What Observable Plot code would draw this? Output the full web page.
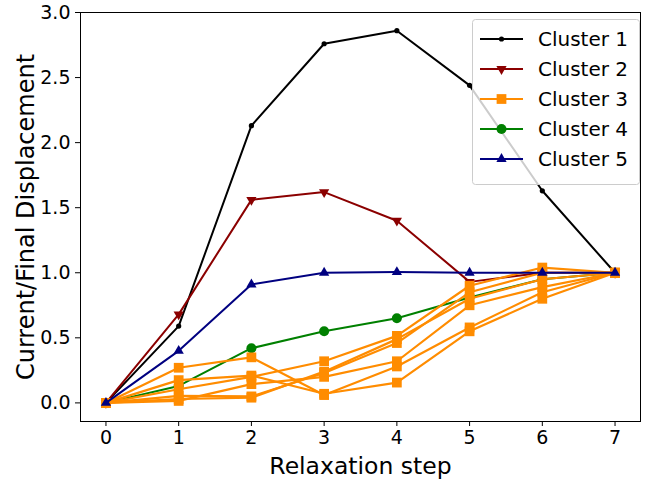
<!DOCTYPE html>
<html>
<head>
<meta charset="utf-8">
<script src="https://cdn.jsdelivr.net/npm/d3@7"></script>
<script src="https://cdn.jsdelivr.net/npm/@observablehq/plot@0.6"></script>
<style>
  html, body { margin: 0; padding: 0; background: #fff; }
  #wrap { position: relative; width: 645px; height: 485px; font-family: "DejaVu Sans", sans-serif; }
  #legend { position: absolute; left: 0; top: 0; }
</style>
</head>
<body>
<div id="wrap"></div>
<script>
const steps = [0, 1, 2, 3, 4, 5, 6, 7];
const cluster1 = [0, 0.59, 2.13, 2.76, 2.86, 2.44, 1.63, 1.0];
const cluster2 = [0, 0.68, 1.56, 1.62, 1.40, 0.93, 1.0, 1.0];
const cluster3a = [0, 0.27, 0.35, 0.06, 0.28, 0.58, 0.85, 1.0];
const cluster3b = [0, 0.175, 0.21, 0.07, 0.156, 0.55, 0.80, 1.0];
const cluster3c = [0, 0.105, 0.20, 0.32, 0.515, 0.90, 1.04, 1.0];
const cluster3d = [0, 0.054, 0.05, 0.23, 0.46, 0.85, 1.0, 1.0];
const cluster3e = [0, 0.015, 0.144, 0.20, 0.32, 0.75, 0.89, 1.0];
const cluster3f = [0, 0.03, 0.04, 0.24, 0.49, 0.80, 0.95, 1.0];
const cluster4 = [0, 0.13, 0.42, 0.55, 0.65, 0.81, 0.95, 1.0];
const cluster5 = [0, 0.40, 0.91, 1.0, 1.005, 1.0, 1.0, 1.0];
const legendLabels = ["Cluster 1", "Cluster 2", "Cluster 3", "Cluster 4", "Cluster 5"];
const colors = ["#000000", "#8b0000", "#ff8c00", "#008000", "#000080"];
const xTicks = [0, 1, 2, 3, 4, 5, 6, 7];
const yTicks = [0, 0.5, 1.0, 1.5, 2.0, 2.5, 3.0];

const rows = (arr) => steps.map((s, i) => ({x: s, y: arr[i]}));
const c3 = [cluster3a, cluster3b, cluster3c, cluster3d, cluster3e, cluster3f];

const marks = [];
// Cluster 1
marks.push(Plot.line(rows(cluster1), {x: "x", y: "y", stroke: colors[0], strokeWidth: 2}));
marks.push(Plot.dot(rows(cluster1), {x: "x", y: "y", fill: colors[0], r: 2.6, symbol: "circle"}));
// Cluster 2
marks.push(Plot.line(rows(cluster2), {x: "x", y: "y", stroke: colors[1], strokeWidth: 2}));
marks.push(Plot.dot(rows(cluster2), {x: "x", y: "y", fill: colors[1], r: 3.8, symbol: "triangle", rotate: 180}));
// Cluster 4
marks.push(Plot.line(rows(cluster4), {x: "x", y: "y", stroke: colors[3], strokeWidth: 2}));
marks.push(Plot.dot(rows(cluster4), {x: "x", y: "y", fill: colors[3], r: 5, symbol: "circle"}));
// Cluster 3
for (const a of c3) {
  marks.push(Plot.line(rows(a), {x: "x", y: "y", stroke: colors[2], strokeWidth: 2.2}));
  marks.push(Plot.dot(rows(a), {x: "x", y: "y", fill: colors[2], r: 5.5, symbol: "square"}));
}
// Cluster 5
marks.push(Plot.line(rows(cluster5), {x: "x", y: "y", stroke: colors[4], strokeWidth: 2}));
marks.push(Plot.dot(rows(cluster5), {x: "x", y: "y", fill: colors[4], r: 3.8, symbol: "triangle"}));

const chart = Plot.plot({
  width: 645,
  height: 485,
  marginLeft: 80,
  marginRight: 5,
  marginTop: 12,
  marginBottom: 64,
  style: {fontFamily: "DejaVu Sans, sans-serif", color: "#000", background: "#fff", overflow: "visible"},
  x: {domain: [-0.35, 7.35]},
  y: {domain: [-0.143, 3.0]},
  marks: [
    ...marks,
    Plot.frame({stroke: "#000", strokeWidth: 1}),
    Plot.axisX({ticks: xTicks, tickSize: 5, tickPadding: 4, fontSize: 19, tickFormat: d => String(d), label: null}),
    Plot.axisY({ticks: yTicks, tickSize: 5, tickPadding: 5, fontSize: 19, tickFormat: d => d.toFixed(1), label: null}),
    Plot.text(["Relaxation step"], {frameAnchor: "bottom", dy: 52, fontSize: 23.5, fill: "#000", textAnchor: "middle"}),
    Plot.text(["Current/Final Displacement"], {frameAnchor: "left", dx: -54, rotate: -90, fontSize: 24, fill: "#000", textAnchor: "middle"})
  ]
});
const wrap = document.getElementById("wrap");
wrap.appendChild(chart);

// Legend overlay
const lg = d3.select(wrap).append("svg").attr("id", "legend").attr("width", 645).attr("height", 485);
lg.append("rect").attr("x", 472.5).attr("y", 19.5).attr("width", 167).attr("height", 165).attr("rx", 3)
  .attr("fill", "rgba(255,255,255,0.8)").attr("stroke", "#cccccc").attr("stroke-width", 1);
const rowY = [39, 69, 99, 129, 159];
const sym = [d3.symbolCircle, d3.symbolTriangle, d3.symbolSquare, d3.symbolCircle, d3.symbolTriangle];
const rad = [2.6, 3.8, 5.5, 5, 3.8];
legendLabels.forEach((lab, i) => {
  const g = lg.append("g");
  g.append("line").attr("x1", 480).attr("x2", 523).attr("y1", rowY[i]).attr("y2", rowY[i])
    .attr("stroke", colors[i]).attr("stroke-width", 2);
  g.append("path").attr("d", d3.symbol(sym[i], Math.PI * rad[i] * rad[i])())
    .attr("transform", `translate(501.5,${rowY[i]})` + (i === 1 ? " rotate(180)" : ""))
    .attr("fill", colors[i]);
  g.append("text").attr("x", 538).attr("y", rowY[i]).attr("dy", "0.35em")
    .attr("font-size", 20).attr("font-family", "DejaVu Sans, sans-serif").attr("fill", "#000").text(lab);
});
</script>
</body>
</html>
